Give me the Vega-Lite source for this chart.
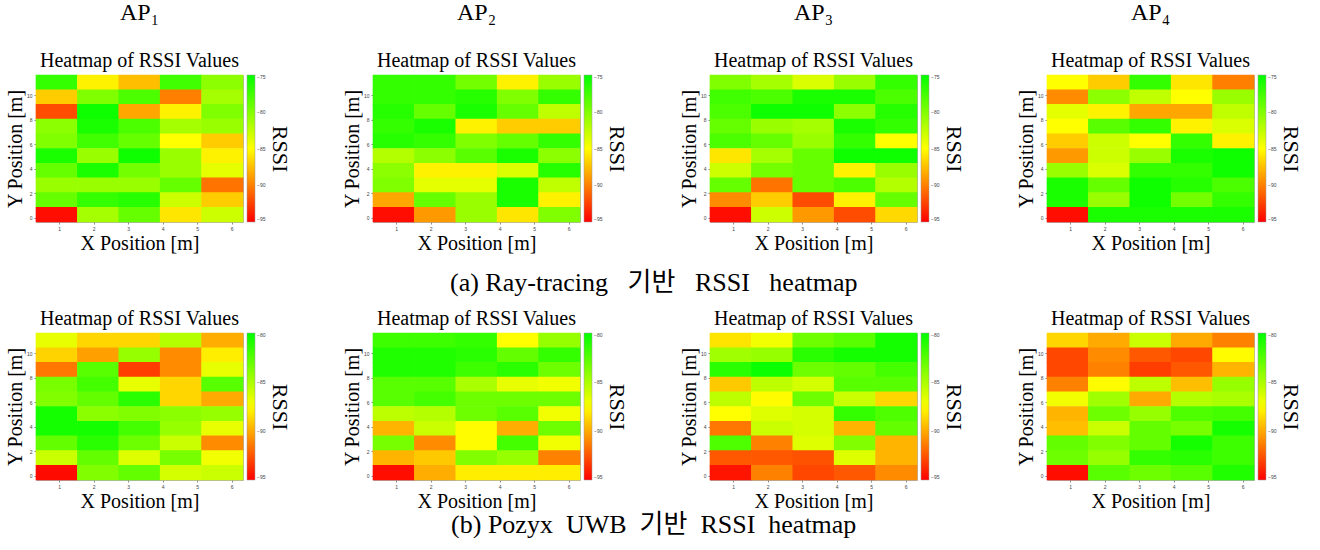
{
  "$schema": "https://vega.github.io/schema/vega-lite/v6.json",
  "padding": {"left": 4, "top": 0, "right": 5, "bottom": 0},
  "background": "white",
  "spacing": 12,
  "resolve": {"scale": {"color": "independent"}, "legend": {"color": "independent"}},
  "config": {
    "view": {"stroke": "#b0b0b0", "strokeWidth": 1},
    "axis": {"labelFontSize": 5, "labelColor": "#444", "labelFont": "Liberation Sans", "tickColor": "#888", "tickSize": 2, "domain": false, "grid": false, "titleFont": "Liberation Serif", "titleFontSize": 20, "titleFontWeight": "normal", "titleColor": "#000", "labelPadding": 2},
    "axisX": {"titlePadding": 2},
    "axisY": {"titlePadding": 1},
    "legend": {"gradientLength": 147, "gradientThickness": 8, "labelFontSize": 5, "labelColor": "#444", "labelFont": "Liberation Sans", "titleFont": "Liberation Serif", "titleFontSize": 22, "titleFontWeight": "normal", "titleColor": "#000", "titleOrient": "right", "titleAnchor": "middle", "titlePadding": 3, "offset": 4, "padding": 0, "gradientStrokeColor": "#999", "gradientStrokeWidth": 0.5, "labelOverlap": false},
    "title": {"font": "Liberation Serif", "fontSize": 20, "fontWeight": "normal", "color": "#000", "frame": "group", "anchor": "middle", "offset": 4, "subtitleFont": "Liberation Serif", "subtitleFontSize": 20, "subtitleColor": "#000", "subtitlePadding": 26}
  },
  "datasets": {
    "a1": [
      {"x":0.93,"y":11.07,"v":-77},{"x":2.13,"y":11.07,"v":-85.5},{"x":3.33,"y":11.07,"v":-87.5},{"x":4.53,"y":11.07,"v":-77.5},{"x":5.73,"y":11.07,"v":-80.5},
      {"x":0.93,"y":9.87,"v":-87},{"x":2.13,"y":9.87,"v":-80},{"x":3.33,"y":9.87,"v":-78},{"x":4.53,"y":9.87,"v":-90},{"x":5.73,"y":9.87,"v":-81.5},
      {"x":0.93,"y":8.67,"v":-92},{"x":2.13,"y":8.67,"v":-75.5},{"x":3.33,"y":8.67,"v":-88.5},{"x":4.53,"y":8.67,"v":-85.5},{"x":5.73,"y":8.67,"v":-80},
      {"x":0.93,"y":7.47,"v":-80.5},{"x":2.13,"y":7.47,"v":-76},{"x":3.33,"y":7.47,"v":-78},{"x":4.53,"y":7.47,"v":-81.5},{"x":5.73,"y":7.47,"v":-81},
      {"x":0.93,"y":6.27,"v":-80},{"x":2.13,"y":6.27,"v":-77.5},{"x":3.33,"y":6.27,"v":-79},{"x":4.53,"y":6.27,"v":-85},{"x":5.73,"y":6.27,"v":-87},
      {"x":0.93,"y":5.07,"v":-76},{"x":2.13,"y":5.07,"v":-81},{"x":3.33,"y":5.07,"v":-75.5},{"x":4.53,"y":5.07,"v":-81},{"x":5.73,"y":5.07,"v":-85.5},
      {"x":0.93,"y":3.87,"v":-79},{"x":2.13,"y":3.87,"v":-76},{"x":3.33,"y":3.87,"v":-79.5},{"x":4.53,"y":3.87,"v":-81},{"x":5.73,"y":3.87,"v":-84},
      {"x":0.93,"y":2.67,"v":-81},{"x":2.13,"y":2.67,"v":-81},{"x":3.33,"y":2.67,"v":-81},{"x":4.53,"y":2.67,"v":-79},{"x":5.73,"y":2.67,"v":-90.5},
      {"x":0.93,"y":1.47,"v":-79},{"x":2.13,"y":1.47,"v":-77},{"x":3.33,"y":1.47,"v":-76.5},{"x":4.53,"y":1.47,"v":-83},{"x":5.73,"y":1.47,"v":-87},
      {"x":0.93,"y":0.27,"v":-94.5},{"x":2.13,"y":0.27,"v":-81.5},{"x":3.33,"y":0.27,"v":-79},{"x":4.53,"y":0.27,"v":-86},{"x":5.73,"y":0.27,"v":-83}
    ],
    "a2": [
      {"x":0.93,"y":11.07,"v":-77},{"x":2.13,"y":11.07,"v":-77},{"x":3.33,"y":11.07,"v":-79.5},{"x":4.53,"y":11.07,"v":-85.5},{"x":5.73,"y":11.07,"v":-81},
      {"x":0.93,"y":9.87,"v":-77},{"x":2.13,"y":9.87,"v":-77},{"x":3.33,"y":9.87,"v":-76.5},{"x":4.53,"y":9.87,"v":-80},{"x":5.73,"y":9.87,"v":-77},
      {"x":0.93,"y":8.67,"v":-76.5},{"x":2.13,"y":8.67,"v":-79},{"x":3.33,"y":8.67,"v":-76},{"x":4.53,"y":8.67,"v":-79},{"x":5.73,"y":8.67,"v":-82.5},
      {"x":0.93,"y":7.47,"v":-77},{"x":2.13,"y":7.47,"v":-76},{"x":3.33,"y":7.47,"v":-85.5},{"x":4.53,"y":7.47,"v":-87},{"x":5.73,"y":7.47,"v":-87},
      {"x":0.93,"y":6.27,"v":-76.5},{"x":2.13,"y":6.27,"v":-77},{"x":3.33,"y":6.27,"v":-80},{"x":4.53,"y":6.27,"v":-79},{"x":5.73,"y":6.27,"v":-77},
      {"x":0.93,"y":5.07,"v":-82},{"x":2.13,"y":5.07,"v":-80.5},{"x":3.33,"y":5.07,"v":-78.5},{"x":4.53,"y":5.07,"v":-76},{"x":5.73,"y":5.07,"v":-80.5},
      {"x":0.93,"y":3.87,"v":-80.5},{"x":2.13,"y":3.87,"v":-85.5},{"x":3.33,"y":3.87,"v":-85.5},{"x":4.53,"y":3.87,"v":-83.5},{"x":5.73,"y":3.87,"v":-76.5},
      {"x":0.93,"y":2.67,"v":-80},{"x":2.13,"y":2.67,"v":-84},{"x":3.33,"y":2.67,"v":-84},{"x":4.53,"y":2.67,"v":-76},{"x":5.73,"y":2.67,"v":-82.5},
      {"x":0.93,"y":1.47,"v":-88.5},{"x":2.13,"y":1.47,"v":-79},{"x":3.33,"y":1.47,"v":-81},{"x":4.53,"y":1.47,"v":-76},{"x":5.73,"y":1.47,"v":-85.5},
      {"x":0.93,"y":0.27,"v":-94.5},{"x":2.13,"y":0.27,"v":-89},{"x":3.33,"y":0.27,"v":-81},{"x":4.53,"y":0.27,"v":-86},{"x":5.73,"y":0.27,"v":-80}
    ],
    "a3": [
      {"x":0.93,"y":11.07,"v":-80},{"x":2.13,"y":11.07,"v":-81.5},{"x":3.33,"y":11.07,"v":-83.5},{"x":4.53,"y":11.07,"v":-81},{"x":5.73,"y":11.07,"v":-77},
      {"x":0.93,"y":9.87,"v":-77.5},{"x":2.13,"y":9.87,"v":-78},{"x":3.33,"y":9.87,"v":-76},{"x":4.53,"y":9.87,"v":-76},{"x":5.73,"y":9.87,"v":-78},
      {"x":0.93,"y":8.67,"v":-78},{"x":2.13,"y":8.67,"v":-75.5},{"x":3.33,"y":8.67,"v":-75.5},{"x":4.53,"y":8.67,"v":-80.5},{"x":5.73,"y":8.67,"v":-76.5},
      {"x":0.93,"y":7.47,"v":-79},{"x":2.13,"y":7.47,"v":-81},{"x":3.33,"y":7.47,"v":-81.5},{"x":4.53,"y":7.47,"v":-76},{"x":5.73,"y":7.47,"v":-77},
      {"x":0.93,"y":6.27,"v":-78},{"x":2.13,"y":6.27,"v":-79},{"x":3.33,"y":6.27,"v":-81},{"x":4.53,"y":6.27,"v":-77},{"x":5.73,"y":6.27,"v":-85},
      {"x":0.93,"y":5.07,"v":-86},{"x":2.13,"y":5.07,"v":-81.5},{"x":3.33,"y":5.07,"v":-79},{"x":4.53,"y":5.07,"v":-75.5},{"x":5.73,"y":5.07,"v":-75.5},
      {"x":0.93,"y":3.87,"v":-83},{"x":2.13,"y":3.87,"v":-79.5},{"x":3.33,"y":3.87,"v":-79},{"x":4.53,"y":3.87,"v":-85.5},{"x":5.73,"y":3.87,"v":-81},
      {"x":0.93,"y":2.67,"v":-79},{"x":2.13,"y":2.67,"v":-90.5},{"x":3.33,"y":2.67,"v":-79},{"x":4.53,"y":2.67,"v":-78},{"x":5.73,"y":2.67,"v":-82},
      {"x":0.93,"y":1.47,"v":-89.5},{"x":2.13,"y":1.47,"v":-87},{"x":3.33,"y":1.47,"v":-92},{"x":4.53,"y":1.47,"v":-85.5},{"x":5.73,"y":1.47,"v":-79},
      {"x":0.93,"y":0.27,"v":-94.5},{"x":2.13,"y":0.27,"v":-83},{"x":3.33,"y":0.27,"v":-89},{"x":4.53,"y":0.27,"v":-92},{"x":5.73,"y":0.27,"v":-86.5}
    ],
    "a4": [
      {"x":0.93,"y":11.07,"v":-85},{"x":2.13,"y":11.07,"v":-87},{"x":3.33,"y":11.07,"v":-77},{"x":4.53,"y":11.07,"v":-86},{"x":5.73,"y":11.07,"v":-90},
      {"x":0.93,"y":9.87,"v":-89.5},{"x":2.13,"y":9.87,"v":-80.5},{"x":3.33,"y":9.87,"v":-82.5},{"x":4.53,"y":9.87,"v":-85},{"x":5.73,"y":9.87,"v":-81},
      {"x":0.93,"y":8.67,"v":-84},{"x":2.13,"y":8.67,"v":-85.5},{"x":3.33,"y":8.67,"v":-88.5},{"x":4.53,"y":8.67,"v":-88.5},{"x":5.73,"y":8.67,"v":-82.5},
      {"x":0.93,"y":7.47,"v":-85},{"x":2.13,"y":7.47,"v":-78.5},{"x":3.33,"y":7.47,"v":-77},{"x":4.53,"y":7.47,"v":-85.5},{"x":5.73,"y":7.47,"v":-83.5},
      {"x":0.93,"y":6.27,"v":-87},{"x":2.13,"y":6.27,"v":-83},{"x":3.33,"y":6.27,"v":-85},{"x":4.53,"y":6.27,"v":-77},{"x":5.73,"y":6.27,"v":-85.5},
      {"x":0.93,"y":5.07,"v":-89},{"x":2.13,"y":5.07,"v":-83},{"x":3.33,"y":5.07,"v":-81},{"x":4.53,"y":5.07,"v":-76},{"x":5.73,"y":5.07,"v":-75.5},
      {"x":0.93,"y":3.87,"v":-81},{"x":2.13,"y":3.87,"v":-83.5},{"x":3.33,"y":3.87,"v":-77},{"x":4.53,"y":3.87,"v":-77},{"x":5.73,"y":3.87,"v":-75.5},
      {"x":0.93,"y":2.67,"v":-76},{"x":2.13,"y":2.67,"v":-79},{"x":3.33,"y":2.67,"v":-75.5},{"x":4.53,"y":2.67,"v":-76.5},{"x":5.73,"y":2.67,"v":-78},
      {"x":0.93,"y":1.47,"v":-76},{"x":2.13,"y":1.47,"v":-81},{"x":3.33,"y":1.47,"v":-75.5},{"x":4.53,"y":1.47,"v":-79.5},{"x":5.73,"y":1.47,"v":-77},
      {"x":0.93,"y":0.27,"v":-94.5},{"x":2.13,"y":0.27,"v":-76},{"x":3.33,"y":0.27,"v":-76},{"x":4.53,"y":0.27,"v":-76},{"x":5.73,"y":0.27,"v":-76}
    ],
    "b1": [
      {"x":0.93,"y":11.07,"v":-86.8},{"x":2.13,"y":11.07,"v":-88.7},{"x":3.33,"y":11.07,"v":-88.7},{"x":4.53,"y":11.07,"v":-85.3},{"x":5.73,"y":11.07,"v":-89.9},
      {"x":0.93,"y":9.87,"v":-88.8},{"x":2.13,"y":9.87,"v":-90.3},{"x":3.33,"y":9.87,"v":-84.4},{"x":4.53,"y":9.87,"v":-90.9},{"x":5.73,"y":9.87,"v":-88},
      {"x":0.93,"y":8.67,"v":-91.5},{"x":2.13,"y":8.67,"v":-82.6},{"x":3.33,"y":8.67,"v":-93.2},{"x":4.53,"y":8.67,"v":-90.9},{"x":5.73,"y":8.67,"v":-86.8},
      {"x":0.93,"y":7.47,"v":-83.5},{"x":2.13,"y":7.47,"v":-82},{"x":3.33,"y":7.47,"v":-86.8},{"x":4.53,"y":7.47,"v":-88.7},{"x":5.73,"y":7.47,"v":-82.6},
      {"x":0.93,"y":6.27,"v":-83.8},{"x":2.13,"y":6.27,"v":-82.9},{"x":3.33,"y":6.27,"v":-81.2},{"x":4.53,"y":6.27,"v":-88.7},{"x":5.73,"y":6.27,"v":-90},
      {"x":0.93,"y":5.07,"v":-80.6},{"x":2.13,"y":5.07,"v":-84.1},{"x":3.33,"y":5.07,"v":-83.8},{"x":4.53,"y":5.07,"v":-84.1},{"x":5.73,"y":5.07,"v":-84.4},
      {"x":0.93,"y":3.87,"v":-80.6},{"x":2.13,"y":3.87,"v":-80.6},{"x":3.33,"y":3.87,"v":-82},{"x":4.53,"y":3.87,"v":-84.4},{"x":5.73,"y":3.87,"v":-86.8},
      {"x":0.93,"y":2.67,"v":-82.9},{"x":2.13,"y":2.67,"v":-81.2},{"x":3.33,"y":2.67,"v":-83.2},{"x":4.53,"y":2.67,"v":-85.9},{"x":5.73,"y":2.67,"v":-90.9},
      {"x":0.93,"y":1.47,"v":-85.9},{"x":2.13,"y":1.47,"v":-82.9},{"x":3.33,"y":1.47,"v":-86.5},{"x":4.53,"y":1.47,"v":-83.5},{"x":5.73,"y":1.47,"v":-87.1},
      {"x":0.93,"y":0.27,"v":-94.7},{"x":2.13,"y":0.27,"v":-83.8},{"x":3.33,"y":0.27,"v":-82.9},{"x":4.53,"y":0.27,"v":-86.2},{"x":5.73,"y":0.27,"v":-85.9}
    ],
    "b2": [
      {"x":0.93,"y":11.07,"v":-81.8},{"x":2.13,"y":11.07,"v":-81.8},{"x":3.33,"y":11.07,"v":-81.5},{"x":4.53,"y":11.07,"v":-87.5},{"x":5.73,"y":11.07,"v":-84.4},
      {"x":0.93,"y":9.87,"v":-80.9},{"x":2.13,"y":9.87,"v":-80.9},{"x":3.33,"y":9.87,"v":-81.2},{"x":4.53,"y":9.87,"v":-82.9},{"x":5.73,"y":9.87,"v":-81.5},
      {"x":0.93,"y":8.67,"v":-80.9},{"x":2.13,"y":8.67,"v":-80.9},{"x":3.33,"y":8.67,"v":-81.8},{"x":4.53,"y":8.67,"v":-81.2},{"x":5.73,"y":8.67,"v":-83.2},
      {"x":0.93,"y":7.47,"v":-82.6},{"x":2.13,"y":7.47,"v":-82.6},{"x":3.33,"y":7.47,"v":-85},{"x":4.53,"y":7.47,"v":-86.8},{"x":5.73,"y":7.47,"v":-87.1},
      {"x":0.93,"y":6.27,"v":-82.6},{"x":2.13,"y":6.27,"v":-82},{"x":3.33,"y":6.27,"v":-83.2},{"x":4.53,"y":6.27,"v":-83.2},{"x":5.73,"y":6.27,"v":-83.2},
      {"x":0.93,"y":5.07,"v":-85.6},{"x":2.13,"y":5.07,"v":-85.3},{"x":3.33,"y":5.07,"v":-83.2},{"x":4.53,"y":5.07,"v":-82.6},{"x":5.73,"y":5.07,"v":-87.1},
      {"x":0.93,"y":3.87,"v":-89.7},{"x":2.13,"y":3.87,"v":-85.9},{"x":3.33,"y":3.87,"v":-87.6},{"x":4.53,"y":3.87,"v":-89.9},{"x":5.73,"y":3.87,"v":-83.2},
      {"x":0.93,"y":2.67,"v":-83.5},{"x":2.13,"y":2.67,"v":-90.9},{"x":3.33,"y":2.67,"v":-87.6},{"x":4.53,"y":2.67,"v":-82},{"x":5.73,"y":2.67,"v":-87.1},
      {"x":0.93,"y":1.47,"v":-89.7},{"x":2.13,"y":1.47,"v":-89.1},{"x":3.33,"y":1.47,"v":-83.8},{"x":4.53,"y":1.47,"v":-84.4},{"x":5.73,"y":1.47,"v":-91.2},
      {"x":0.93,"y":0.27,"v":-94.6},{"x":2.13,"y":0.27,"v":-89.9},{"x":3.33,"y":0.27,"v":-88},{"x":4.53,"y":0.27,"v":-88},{"x":5.73,"y":0.27,"v":-88}
    ],
    "b3": [
      {"x":0.93,"y":11.07,"v":-88.3},{"x":2.13,"y":11.07,"v":-87.1},{"x":3.33,"y":11.07,"v":-83.2},{"x":4.53,"y":11.07,"v":-82.6},{"x":5.73,"y":11.07,"v":-80.6},
      {"x":0.93,"y":9.87,"v":-84.7},{"x":2.13,"y":9.87,"v":-84.4},{"x":3.33,"y":9.87,"v":-81.2},{"x":4.53,"y":9.87,"v":-80.6},{"x":5.73,"y":9.87,"v":-80.6},
      {"x":0.93,"y":8.67,"v":-81.2},{"x":2.13,"y":8.67,"v":-80.3},{"x":3.33,"y":8.67,"v":-83.2},{"x":4.53,"y":8.67,"v":-82.9},{"x":5.73,"y":8.67,"v":-82},
      {"x":0.93,"y":7.47,"v":-89.1},{"x":2.13,"y":7.47,"v":-85.6},{"x":3.33,"y":7.47,"v":-86.2},{"x":4.53,"y":7.47,"v":-82.6},{"x":5.73,"y":7.47,"v":-82.6},
      {"x":0.93,"y":6.27,"v":-85.6},{"x":2.13,"y":6.27,"v":-87.6},{"x":3.33,"y":6.27,"v":-83.2},{"x":4.53,"y":6.27,"v":-85.9},{"x":5.73,"y":6.27,"v":-88.7},
      {"x":0.93,"y":5.07,"v":-87.5},{"x":2.13,"y":5.07,"v":-86.5},{"x":3.33,"y":5.07,"v":-86.2},{"x":4.53,"y":5.07,"v":-81.5},{"x":5.73,"y":5.07,"v":-82.3},
      {"x":0.93,"y":3.87,"v":-91.5},{"x":2.13,"y":3.87,"v":-85.9},{"x":3.33,"y":3.87,"v":-86.2},{"x":4.53,"y":3.87,"v":-89.7},{"x":5.73,"y":3.87,"v":-82.9},
      {"x":0.93,"y":2.67,"v":-82.3},{"x":2.13,"y":2.67,"v":-91.2},{"x":3.33,"y":2.67,"v":-86.5},{"x":4.53,"y":2.67,"v":-83.8},{"x":5.73,"y":2.67,"v":-89.7},
      {"x":0.93,"y":1.47,"v":-92.4},{"x":2.13,"y":1.47,"v":-92.4},{"x":3.33,"y":1.47,"v":-92.6},{"x":4.53,"y":1.47,"v":-86.5},{"x":5.73,"y":1.47,"v":-89.7},
      {"x":0.93,"y":0.27,"v":-94.4},{"x":2.13,"y":0.27,"v":-91.2},{"x":3.33,"y":0.27,"v":-92.9},{"x":4.53,"y":0.27,"v":-92.4},{"x":5.73,"y":0.27,"v":-90.9}
    ],
    "b4": [
      {"x":0.93,"y":11.07,"v":-88.7},{"x":2.13,"y":11.07,"v":-90},{"x":3.33,"y":11.07,"v":-85.9},{"x":4.53,"y":11.07,"v":-90},{"x":5.73,"y":11.07,"v":-91.2},
      {"x":0.93,"y":9.87,"v":-92.9},{"x":2.13,"y":9.87,"v":-90.9},{"x":3.33,"y":9.87,"v":-92.4},{"x":4.53,"y":9.87,"v":-92.9},{"x":5.73,"y":9.87,"v":-87.6},
      {"x":0.93,"y":8.67,"v":-92.9},{"x":2.13,"y":8.67,"v":-91.2},{"x":3.33,"y":8.67,"v":-93.2},{"x":4.53,"y":8.67,"v":-92.4},{"x":5.73,"y":8.67,"v":-89.7},
      {"x":0.93,"y":7.47,"v":-91.2},{"x":2.13,"y":7.47,"v":-87.6},{"x":3.33,"y":7.47,"v":-85.6},{"x":4.53,"y":7.47,"v":-89.4},{"x":5.73,"y":7.47,"v":-84.4},
      {"x":0.93,"y":6.27,"v":-87.1},{"x":2.13,"y":6.27,"v":-84.7},{"x":3.33,"y":6.27,"v":-90},{"x":4.53,"y":6.27,"v":-85.3},{"x":5.73,"y":6.27,"v":-85},
      {"x":0.93,"y":5.07,"v":-89.7},{"x":2.13,"y":5.07,"v":-83.2},{"x":3.33,"y":5.07,"v":-84.4},{"x":4.53,"y":5.07,"v":-82.3},{"x":5.73,"y":5.07,"v":-82},
      {"x":0.93,"y":3.87,"v":-89.4},{"x":2.13,"y":3.87,"v":-85.9},{"x":3.33,"y":3.87,"v":-82.9},{"x":4.53,"y":3.87,"v":-83.5},{"x":5.73,"y":3.87,"v":-80.6},
      {"x":0.93,"y":2.67,"v":-82.9},{"x":2.13,"y":2.67,"v":-83.8},{"x":3.33,"y":2.67,"v":-82.9},{"x":4.53,"y":2.67,"v":-80.6},{"x":5.73,"y":2.67,"v":-81.8},
      {"x":0.93,"y":1.47,"v":-83.2},{"x":2.13,"y":1.47,"v":-84.4},{"x":3.33,"y":1.47,"v":-81.5},{"x":4.53,"y":1.47,"v":-81.2},{"x":5.73,"y":1.47,"v":-81.8},
      {"x":0.93,"y":0.27,"v":-94.6},{"x":2.13,"y":0.27,"v":-82.6},{"x":3.33,"y":0.27,"v":-83.2},{"x":4.53,"y":0.27,"v":-82.6},{"x":5.73,"y":0.27,"v":-80.9}
    ]
  },
  "vconcat": [
    {
      "title": {"text": "(a) Ray-tracing\u00a0\u00a0\u00a0기반\u00a0\u00a0\u00a0RSSI\u00a0\u00a0\u00a0heatmap", "orient": "bottom", "anchor": "middle", "fontSize": 26, "font": "Liberation Serif, Noto Sans CJK KR", "offset": 16, "frame": "bounds"},
      "spacing": 49,
      "resolve": {"scale": {"color": "independent"}, "legend": {"color": "independent"}},
      "hconcat": [
        {"width": 207, "height": 147, "data": {"name": "a1"},
         "title": {"text": "AP₁", "subtitle": "Heatmap of RSSI Values", "fontSize": 24},
         "mark": {"type": "point", "shape": "M-1.43,-0.52H1.43V0.52H-1.43Z", "filled": true, "opacity": 1, "size": 864.36, "strokeWidth": 0},
         "encoding": {
           "x": {"field": "x", "type": "quantitative", "scale": {"domain": [0.33, 6.33], "nice": false, "zero": false}, "axis": {"values": [1,2,3,4,5,6], "title": "X Position [m]"}},
           "y": {"field": "y", "type": "quantitative", "scale": {"domain": [-0.33, 11.67], "nice": false, "zero": false}, "axis": {"values": [0,2,4,6,8,10], "title": "Y Position [m]"}},
           "color": {"field": "v", "type": "quantitative", "scale": {"domain": [-95, -85, -75], "range": ["#ff0000", "#ffff00", "#00ff00"], "interpolate": "rgb"}, "legend": {"title": "RSSI", "values": [-95,-90,-85,-80,-75], "encode": {"title": {"angle": {"value": -90}, "baseline": {"value": "top"}}}}}
         }},
        {"width": 207, "height": 147, "data": {"name": "a2"},
         "title": {"text": "AP₂", "subtitle": "Heatmap of RSSI Values", "fontSize": 24},
         "mark": {"type": "point", "shape": "M-1.43,-0.52H1.43V0.52H-1.43Z", "filled": true, "opacity": 1, "size": 864.36, "strokeWidth": 0},
         "encoding": {
           "x": {"field": "x", "type": "quantitative", "scale": {"domain": [0.33, 6.33], "nice": false, "zero": false}, "axis": {"values": [1,2,3,4,5,6], "title": "X Position [m]"}},
           "y": {"field": "y", "type": "quantitative", "scale": {"domain": [-0.33, 11.67], "nice": false, "zero": false}, "axis": {"values": [0,2,4,6,8,10], "title": "Y Position [m]"}},
           "color": {"field": "v", "type": "quantitative", "scale": {"domain": [-95, -85, -75], "range": ["#ff0000", "#ffff00", "#00ff00"], "interpolate": "rgb"}, "legend": {"title": "RSSI", "values": [-95,-90,-85,-80,-75], "encode": {"title": {"angle": {"value": -90}, "baseline": {"value": "top"}}}}}
         }},
        {"width": 207, "height": 147, "data": {"name": "a3"},
         "title": {"text": "AP₃", "subtitle": "Heatmap of RSSI Values", "fontSize": 24},
         "mark": {"type": "point", "shape": "M-1.43,-0.52H1.43V0.52H-1.43Z", "filled": true, "opacity": 1, "size": 864.36, "strokeWidth": 0},
         "encoding": {
           "x": {"field": "x", "type": "quantitative", "scale": {"domain": [0.33, 6.33], "nice": false, "zero": false}, "axis": {"values": [1,2,3,4,5,6], "title": "X Position [m]"}},
           "y": {"field": "y", "type": "quantitative", "scale": {"domain": [-0.33, 11.67], "nice": false, "zero": false}, "axis": {"values": [0,2,4,6,8,10], "title": "Y Position [m]"}},
           "color": {"field": "v", "type": "quantitative", "scale": {"domain": [-95, -85, -75], "range": ["#ff0000", "#ffff00", "#00ff00"], "interpolate": "rgb"}, "legend": {"title": "RSSI", "values": [-95,-90,-85,-80,-75], "encode": {"title": {"angle": {"value": -90}, "baseline": {"value": "top"}}}}}
         }},
        {"width": 207, "height": 147, "data": {"name": "a4"},
         "title": {"text": "AP₄", "subtitle": "Heatmap of RSSI Values", "fontSize": 24},
         "mark": {"type": "point", "shape": "M-1.43,-0.52H1.43V0.52H-1.43Z", "filled": true, "opacity": 1, "size": 864.36, "strokeWidth": 0},
         "encoding": {
           "x": {"field": "x", "type": "quantitative", "scale": {"domain": [0.33, 6.33], "nice": false, "zero": false}, "axis": {"values": [1,2,3,4,5,6], "title": "X Position [m]"}},
           "y": {"field": "y", "type": "quantitative", "scale": {"domain": [-0.33, 11.67], "nice": false, "zero": false}, "axis": {"values": [0,2,4,6,8,10], "title": "Y Position [m]"}},
           "color": {"field": "v", "type": "quantitative", "scale": {"domain": [-95, -85, -75], "range": ["#ff0000", "#ffff00", "#00ff00"], "interpolate": "rgb"}, "legend": {"title": "RSSI", "values": [-95,-90,-85,-80,-75], "encode": {"title": {"angle": {"value": -90}, "baseline": {"value": "top"}}}}}
         }}
      ]
    },
    {
      "title": {"text": "(b) Pozyx\u00a0\u00a0UWB\u00a0\u00a0기반\u00a0\u00a0RSSI\u00a0\u00a0heatmap", "orient": "bottom", "anchor": "middle", "fontSize": 26, "font": "Liberation Serif, Noto Sans CJK KR", "offset": 0, "frame": "bounds"},
      "spacing": 49,
      "resolve": {"scale": {"color": "independent"}, "legend": {"color": "independent"}},
      "hconcat": [
        {"width": 207, "height": 147, "data": {"name": "b1"},
         "title": {"text": "Heatmap of RSSI Values"},
         "mark": {"type": "point", "shape": "M-1.43,-0.52H1.43V0.52H-1.43Z", "filled": true, "opacity": 1, "size": 864.36, "strokeWidth": 0},
         "encoding": {
           "x": {"field": "x", "type": "quantitative", "scale": {"domain": [0.33, 6.33], "nice": false, "zero": false}, "axis": {"values": [1,2,3,4,5,6], "title": "X Position [m]"}},
           "y": {"field": "y", "type": "quantitative", "scale": {"domain": [-0.33, 11.67], "nice": false, "zero": false}, "axis": {"values": [0,2,4,6,8,10], "title": "Y Position [m]"}},
           "color": {"field": "v", "type": "quantitative", "scale": {"domain": [-95, -87.5, -80], "range": ["#ff0000", "#ffff00", "#00ff00"], "interpolate": "rgb"}, "legend": {"title": "RSSI", "values": [-95,-90,-85,-80], "encode": {"title": {"angle": {"value": -90}, "baseline": {"value": "top"}}}}}
         }},
        {"width": 207, "height": 147, "data": {"name": "b2"},
         "title": {"text": "Heatmap of RSSI Values"},
         "mark": {"type": "point", "shape": "M-1.43,-0.52H1.43V0.52H-1.43Z", "filled": true, "opacity": 1, "size": 864.36, "strokeWidth": 0},
         "encoding": {
           "x": {"field": "x", "type": "quantitative", "scale": {"domain": [0.33, 6.33], "nice": false, "zero": false}, "axis": {"values": [1,2,3,4,5,6], "title": "X Position [m]"}},
           "y": {"field": "y", "type": "quantitative", "scale": {"domain": [-0.33, 11.67], "nice": false, "zero": false}, "axis": {"values": [0,2,4,6,8,10], "title": "Y Position [m]"}},
           "color": {"field": "v", "type": "quantitative", "scale": {"domain": [-95, -87.5, -80], "range": ["#ff0000", "#ffff00", "#00ff00"], "interpolate": "rgb"}, "legend": {"title": "RSSI", "values": [-95,-90,-85,-80], "encode": {"title": {"angle": {"value": -90}, "baseline": {"value": "top"}}}}}
         }},
        {"width": 207, "height": 147, "data": {"name": "b3"},
         "title": {"text": "Heatmap of RSSI Values"},
         "mark": {"type": "point", "shape": "M-1.43,-0.52H1.43V0.52H-1.43Z", "filled": true, "opacity": 1, "size": 864.36, "strokeWidth": 0},
         "encoding": {
           "x": {"field": "x", "type": "quantitative", "scale": {"domain": [0.33, 6.33], "nice": false, "zero": false}, "axis": {"values": [1,2,3,4,5,6], "title": "X Position [m]"}},
           "y": {"field": "y", "type": "quantitative", "scale": {"domain": [-0.33, 11.67], "nice": false, "zero": false}, "axis": {"values": [0,2,4,6,8,10], "title": "Y Position [m]"}},
           "color": {"field": "v", "type": "quantitative", "scale": {"domain": [-95, -87.5, -80], "range": ["#ff0000", "#ffff00", "#00ff00"], "interpolate": "rgb"}, "legend": {"title": "RSSI", "values": [-95,-90,-85,-80], "encode": {"title": {"angle": {"value": -90}, "baseline": {"value": "top"}}}}}
         }},
        {"width": 207, "height": 147, "data": {"name": "b4"},
         "title": {"text": "Heatmap of RSSI Values"},
         "mark": {"type": "point", "shape": "M-1.43,-0.52H1.43V0.52H-1.43Z", "filled": true, "opacity": 1, "size": 864.36, "strokeWidth": 0},
         "encoding": {
           "x": {"field": "x", "type": "quantitative", "scale": {"domain": [0.33, 6.33], "nice": false, "zero": false}, "axis": {"values": [1,2,3,4,5,6], "title": "X Position [m]"}},
           "y": {"field": "y", "type": "quantitative", "scale": {"domain": [-0.33, 11.67], "nice": false, "zero": false}, "axis": {"values": [0,2,4,6,8,10], "title": "Y Position [m]"}},
           "color": {"field": "v", "type": "quantitative", "scale": {"domain": [-95, -87.5, -80], "range": ["#ff0000", "#ffff00", "#00ff00"], "interpolate": "rgb"}, "legend": {"title": "RSSI", "values": [-95,-90,-85,-80], "encode": {"title": {"angle": {"value": -90}, "baseline": {"value": "top"}}}}}
         }}
      ]
    }
  ]
}
